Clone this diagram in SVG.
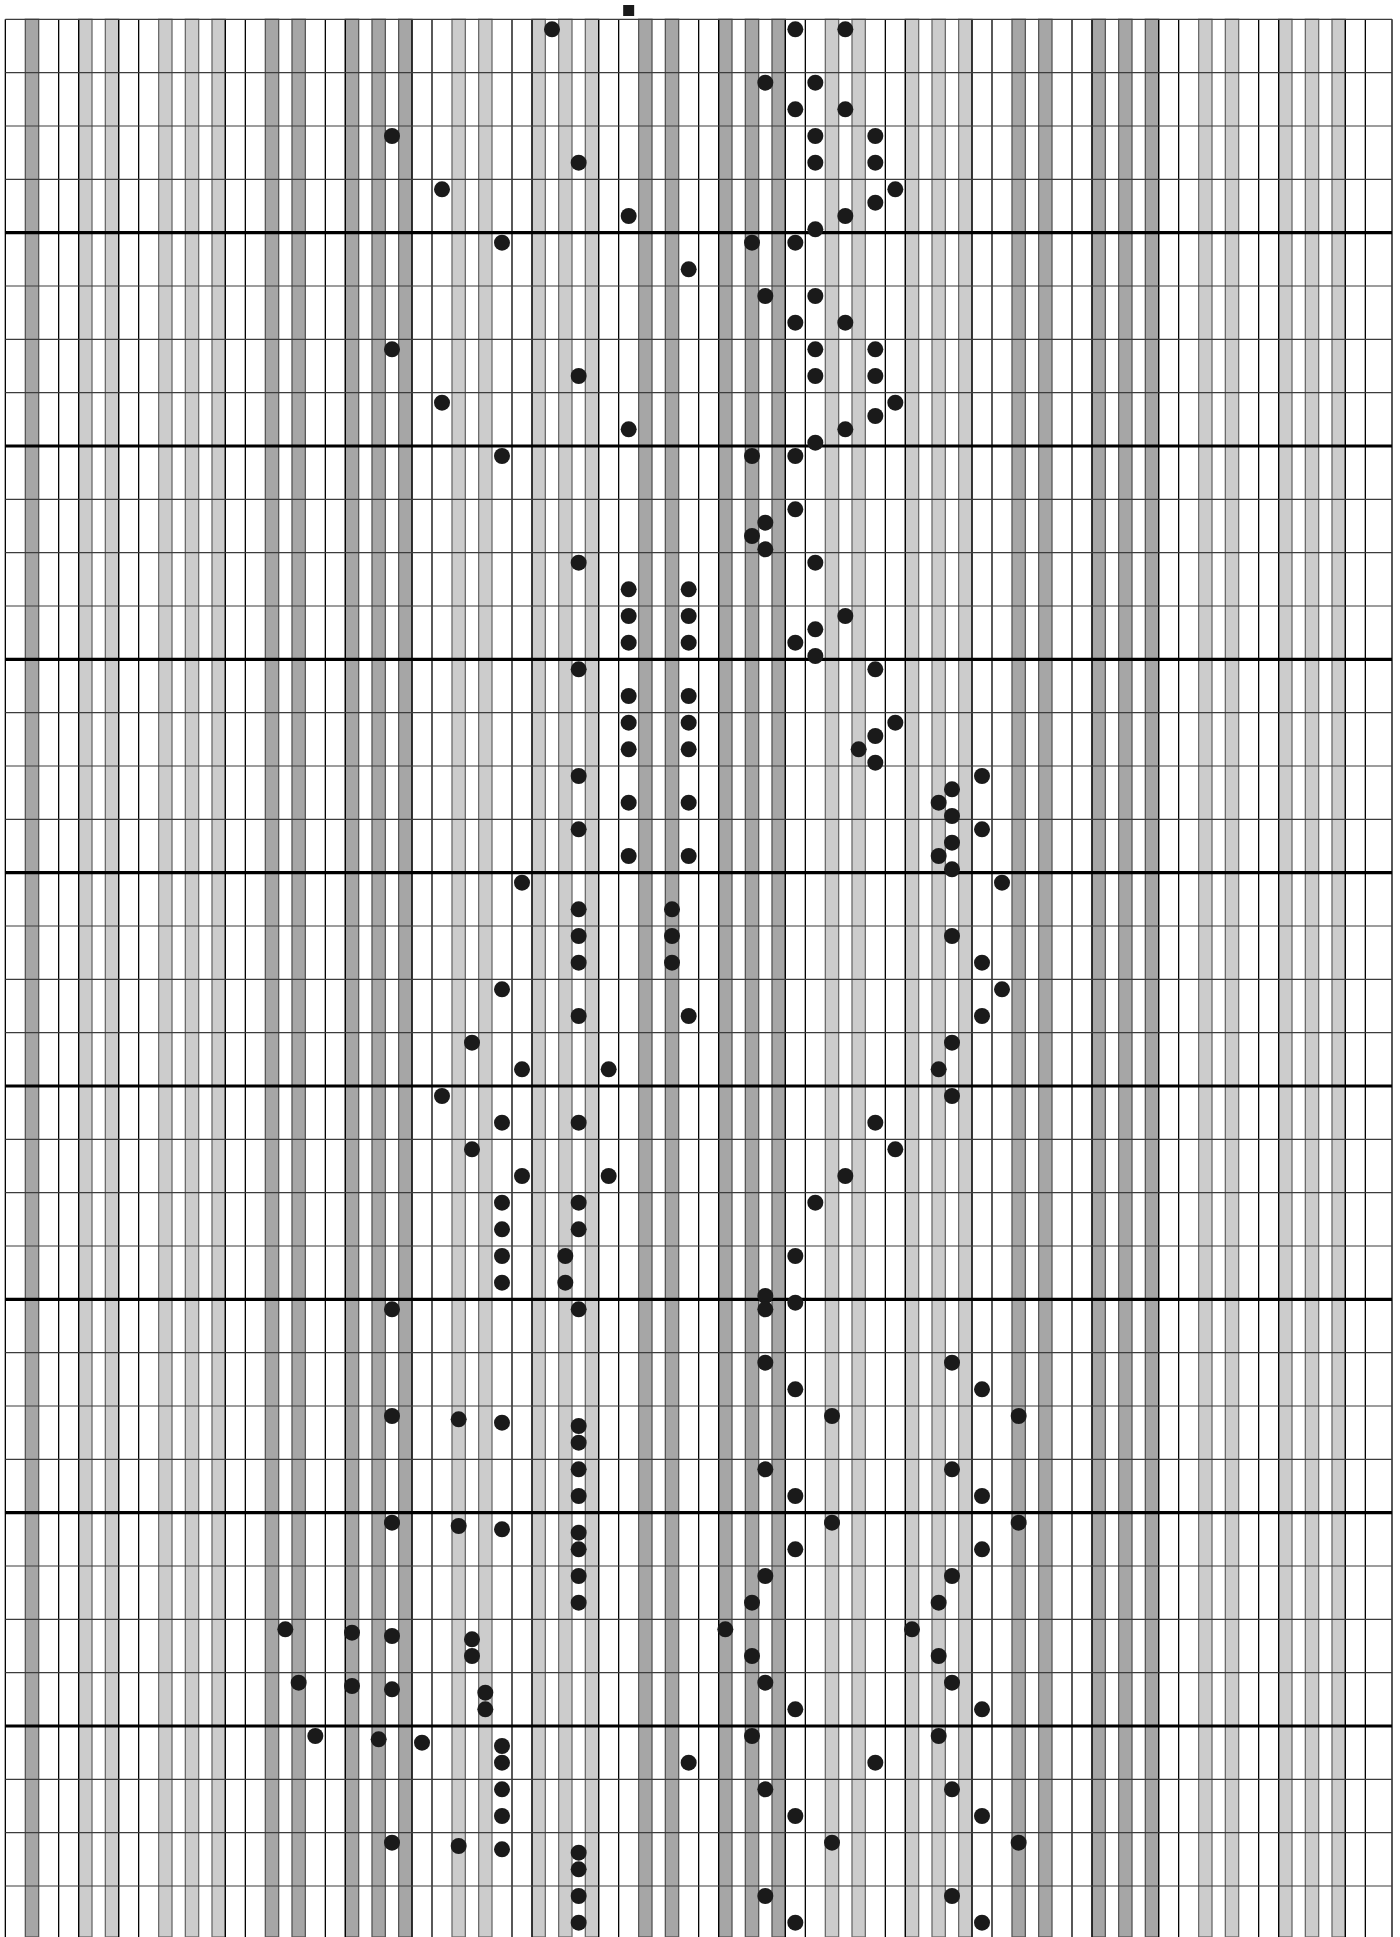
<svg xmlns="http://www.w3.org/2000/svg" xmlns:xlink="http://www.w3.org/1999/xlink" width="1400" height="1937" viewBox="0 0 1400 1937">
<style>
.vl{fill:none;stroke:#000;stroke-width:1.3}
.hl{fill:none;stroke:#3c3c3c;stroke-width:1.2}
.hb{fill:none;stroke:#000;stroke-width:3.2}
.n{fill:#1a1a1a}
</style>
<defs>
<g id="bk">
<rect x="20" y="19.33" width="13.33" height="1917.67"/>
<rect x="46.67" y="19.33" width="13.33" height="1917.67"/>
<rect x="100" y="19.33" width="13.33" height="1917.67"/>
<rect x="126.67" y="19.33" width="13.33" height="1917.67"/>
<rect x="153.33" y="19.33" width="13.33" height="1917.67"/>
</g>
</defs>
<rect x="0" y="0" width="1400" height="1937" fill="#fff"/>
<g id="grid">
<g id="keys" stroke-width="1.3">
<rect x="25.33" y="19.33" width="13.33" height="1917.67" fill="#a6a6a6" stroke="#555"/>
<use xlink:href="#bk" href="#bk" x="58.67" fill="#cccccc" stroke="#6a6a6a"/>
<use xlink:href="#bk" href="#bk" x="245.33" fill="#a6a6a6" stroke="#555"/>
<use xlink:href="#bk" href="#bk" x="432" fill="#cccccc" stroke="#6a6a6a"/>
<use xlink:href="#bk" href="#bk" x="618.67" fill="#a6a6a6" stroke="#555"/>
<use xlink:href="#bk" href="#bk" x="805.33" fill="#cccccc" stroke="#6a6a6a"/>
<use xlink:href="#bk" href="#bk" x="992" fill="#a6a6a6" stroke="#555"/>
<use xlink:href="#bk" href="#bk" x="1178.67" fill="#cccccc" stroke="#6a6a6a"/>
</g>
<path class="vl" d="M5.33 19.33V1937M58.67 19.33V1937M78.67 19.33V1937M118.67 19.33V1937M138.67 19.33V1937M225.33 19.33V1937M245.33 19.33V1937M325.33 19.33V1937M345.33 19.33V1937M412 19.33V1937M432 19.33V1937M512 19.33V1937M532 19.33V1937M598.67 19.33V1937M618.67 19.33V1937M698.67 19.33V1937M718.67 19.33V1937M785.33 19.33V1937M805.33 19.33V1937M885.33 19.33V1937M905.33 19.33V1937M972 19.33V1937M992 19.33V1937M1072 19.33V1937M1092 19.33V1937M1158.67 19.33V1937M1178.67 19.33V1937M1258.67 19.33V1937M1278.67 19.33V1937M1345.33 19.33V1937M1365.33 19.33V1937M1392 19.33V1937"/>
<path class="hl" d="M5.33 19.33H1392M5.33 72.67H1392M5.33 126H1392M5.33 179.33H1392M5.33 286H1392M5.33 339.33H1392M5.33 392.67H1392M5.33 499.33H1392M5.33 552.67H1392M5.33 606H1392M5.33 712.67H1392M5.33 766H1392M5.33 819.33H1392M5.33 926H1392M5.33 979.33H1392M5.33 1032.67H1392M5.33 1139.33H1392M5.33 1192.67H1392M5.33 1246H1392M5.33 1352.67H1392M5.33 1406H1392M5.33 1459.33H1392M5.33 1566H1392M5.33 1619.33H1392M5.33 1672.67H1392M5.33 1779.33H1392M5.33 1832.67H1392M5.33 1886H1392"/>
<path class="hb" d="M5.33 232.67H1392M5.33 446H1392M5.33 659.33H1392M5.33 872.67H1392M5.33 1086H1392M5.33 1299.33H1392M5.33 1512.67H1392M5.33 1726H1392"/>
</g>
<rect id="middle-c" x="623.17" y="5" width="11" height="11" fill="#1a1a1a"/>
<g id="notes">
<circle class="n" r="8" cx="552" cy="29.33"/><circle class="n" r="8" cx="795.33" cy="29.33"/><circle class="n" r="8" cx="845.33" cy="29.33"/>
<circle class="n" r="8" cx="765.33" cy="82.67"/><circle class="n" r="8" cx="815.33" cy="82.67"/>
<circle class="n" r="8" cx="795.33" cy="109.33"/><circle class="n" r="8" cx="845.33" cy="109.33"/>
<circle class="n" r="8" cx="392" cy="136"/><circle class="n" r="8" cx="815.33" cy="136"/><circle class="n" r="8" cx="875.33" cy="136"/>
<circle class="n" r="8" cx="578.67" cy="162.67"/><circle class="n" r="8" cx="815.33" cy="162.67"/><circle class="n" r="8" cx="875.33" cy="162.67"/>
<circle class="n" r="8" cx="442" cy="189.33"/><circle class="n" r="8" cx="895.33" cy="189.33"/>
<circle class="n" r="8" cx="875.33" cy="202.67"/>
<circle class="n" r="8" cx="628.67" cy="216"/><circle class="n" r="8" cx="845.33" cy="216"/>
<circle class="n" r="8" cx="815.33" cy="229.33"/>
<circle class="n" r="8" cx="502" cy="242.67"/><circle class="n" r="8" cx="752" cy="242.67"/><circle class="n" r="8" cx="795.33" cy="242.67"/>
<circle class="n" r="8" cx="688.67" cy="269.33"/>
<circle class="n" r="8" cx="765.33" cy="296"/><circle class="n" r="8" cx="815.33" cy="296"/>
<circle class="n" r="8" cx="795.33" cy="322.67"/><circle class="n" r="8" cx="845.33" cy="322.67"/>
<circle class="n" r="8" cx="392" cy="349.33"/><circle class="n" r="8" cx="815.33" cy="349.33"/><circle class="n" r="8" cx="875.33" cy="349.33"/>
<circle class="n" r="8" cx="578.67" cy="376"/><circle class="n" r="8" cx="815.33" cy="376"/><circle class="n" r="8" cx="875.33" cy="376"/>
<circle class="n" r="8" cx="442" cy="402.67"/><circle class="n" r="8" cx="895.33" cy="402.67"/>
<circle class="n" r="8" cx="875.33" cy="416"/>
<circle class="n" r="8" cx="628.67" cy="429.33"/><circle class="n" r="8" cx="845.33" cy="429.33"/>
<circle class="n" r="8" cx="815.33" cy="442.67"/>
<circle class="n" r="8" cx="502" cy="456"/><circle class="n" r="8" cx="752" cy="456"/><circle class="n" r="8" cx="795.33" cy="456"/>
<circle class="n" r="8" cx="795.33" cy="509.33"/>
<circle class="n" r="8" cx="765.33" cy="522.67"/>
<circle class="n" r="8" cx="752" cy="536"/>
<circle class="n" r="8" cx="765.33" cy="549.33"/>
<circle class="n" r="8" cx="578.67" cy="562.67"/><circle class="n" r="8" cx="815.33" cy="562.67"/>
<circle class="n" r="8" cx="628.67" cy="589.33"/><circle class="n" r="8" cx="688.67" cy="589.33"/>
<circle class="n" r="8" cx="628.67" cy="616"/><circle class="n" r="8" cx="688.67" cy="616"/><circle class="n" r="8" cx="845.33" cy="616"/>
<circle class="n" r="8" cx="815.33" cy="629.33"/>
<circle class="n" r="8" cx="628.67" cy="642.67"/><circle class="n" r="8" cx="688.67" cy="642.67"/><circle class="n" r="8" cx="795.33" cy="642.67"/>
<circle class="n" r="8" cx="815.33" cy="656"/>
<circle class="n" r="8" cx="578.67" cy="669.33"/><circle class="n" r="8" cx="875.33" cy="669.33"/>
<circle class="n" r="8" cx="628.67" cy="696"/><circle class="n" r="8" cx="688.67" cy="696"/>
<circle class="n" r="8" cx="628.67" cy="722.67"/><circle class="n" r="8" cx="688.67" cy="722.67"/><circle class="n" r="8" cx="895.33" cy="722.67"/>
<circle class="n" r="8" cx="875.33" cy="736"/>
<circle class="n" r="8" cx="628.67" cy="749.33"/><circle class="n" r="8" cx="688.67" cy="749.33"/><circle class="n" r="8" cx="858.67" cy="749.33"/>
<circle class="n" r="8" cx="875.33" cy="762.67"/>
<circle class="n" r="8" cx="578.67" cy="776"/><circle class="n" r="8" cx="982" cy="776"/>
<circle class="n" r="8" cx="952" cy="789.33"/>
<circle class="n" r="8" cx="628.67" cy="802.67"/><circle class="n" r="8" cx="688.67" cy="802.67"/><circle class="n" r="8" cx="938.67" cy="802.67"/>
<circle class="n" r="8" cx="952" cy="816"/>
<circle class="n" r="8" cx="578.67" cy="829.33"/><circle class="n" r="8" cx="982" cy="829.33"/>
<circle class="n" r="8" cx="952" cy="842.67"/>
<circle class="n" r="8" cx="628.67" cy="856"/><circle class="n" r="8" cx="688.67" cy="856"/><circle class="n" r="8" cx="938.67" cy="856"/>
<circle class="n" r="8" cx="952" cy="869.33"/>
<circle class="n" r="8" cx="522" cy="882.67"/><circle class="n" r="8" cx="1002" cy="882.67"/>
<circle class="n" r="8" cx="578.67" cy="909.33"/><circle class="n" r="8" cx="672" cy="909.33"/>
<circle class="n" r="8" cx="578.67" cy="936"/><circle class="n" r="8" cx="672" cy="936"/><circle class="n" r="8" cx="952" cy="936"/>
<circle class="n" r="8" cx="578.67" cy="962.67"/><circle class="n" r="8" cx="672" cy="962.67"/><circle class="n" r="8" cx="982" cy="962.67"/>
<circle class="n" r="8" cx="502" cy="989.33"/><circle class="n" r="8" cx="1002" cy="989.33"/>
<circle class="n" r="8" cx="578.67" cy="1016"/><circle class="n" r="8" cx="688.67" cy="1016"/><circle class="n" r="8" cx="982" cy="1016"/>
<circle class="n" r="8" cx="472" cy="1042.67"/><circle class="n" r="8" cx="952" cy="1042.67"/>
<circle class="n" r="8" cx="522" cy="1069.33"/><circle class="n" r="8" cx="608.67" cy="1069.33"/><circle class="n" r="8" cx="938.67" cy="1069.33"/>
<circle class="n" r="8" cx="442" cy="1096"/><circle class="n" r="8" cx="952" cy="1096"/>
<circle class="n" r="8" cx="502" cy="1122.67"/><circle class="n" r="8" cx="578.67" cy="1122.67"/><circle class="n" r="8" cx="875.33" cy="1122.67"/>
<circle class="n" r="8" cx="472" cy="1149.33"/><circle class="n" r="8" cx="895.33" cy="1149.33"/>
<circle class="n" r="8" cx="522" cy="1176"/><circle class="n" r="8" cx="608.67" cy="1176"/><circle class="n" r="8" cx="845.33" cy="1176"/>
<circle class="n" r="8" cx="502" cy="1202.67"/><circle class="n" r="8" cx="578.67" cy="1202.67"/><circle class="n" r="8" cx="815.33" cy="1202.67"/>
<circle class="n" r="8" cx="502" cy="1229.33"/><circle class="n" r="8" cx="578.67" cy="1229.33"/>
<circle class="n" r="8" cx="502" cy="1256"/><circle class="n" r="8" cx="565.33" cy="1256"/><circle class="n" r="8" cx="795.33" cy="1256"/>
<circle class="n" r="8" cx="502" cy="1282.67"/><circle class="n" r="8" cx="565.33" cy="1282.67"/>
<circle class="n" r="8" cx="765.33" cy="1296"/>
<circle class="n" r="8" cx="795.33" cy="1302.67"/>
<circle class="n" r="8" cx="392" cy="1309.33"/><circle class="n" r="8" cx="578.67" cy="1309.33"/><circle class="n" r="8" cx="765.33" cy="1309.33"/>
<circle class="n" r="8" cx="765.33" cy="1362.67"/><circle class="n" r="8" cx="952" cy="1362.67"/>
<circle class="n" r="8" cx="795.33" cy="1389.33"/><circle class="n" r="8" cx="982" cy="1389.33"/>
<circle class="n" r="8" cx="392" cy="1416"/><circle class="n" r="8" cx="832" cy="1416"/><circle class="n" r="8" cx="1018.67" cy="1416"/>
<circle class="n" r="8" cx="458.67" cy="1419.33"/><circle class="n" r="8" cx="502" cy="1422.67"/><circle class="n" r="8" cx="578.67" cy="1426"/>
<circle class="n" r="8" cx="578.67" cy="1442.67"/>
<circle class="n" r="8" cx="578.67" cy="1469.33"/><circle class="n" r="8" cx="765.33" cy="1469.33"/><circle class="n" r="8" cx="952" cy="1469.33"/>
<circle class="n" r="8" cx="578.67" cy="1496"/><circle class="n" r="8" cx="795.33" cy="1496"/><circle class="n" r="8" cx="982" cy="1496"/>
<circle class="n" r="8" cx="392" cy="1522.67"/><circle class="n" r="8" cx="832" cy="1522.67"/><circle class="n" r="8" cx="1018.67" cy="1522.67"/>
<circle class="n" r="8" cx="458.67" cy="1526"/><circle class="n" r="8" cx="502" cy="1529.33"/><circle class="n" r="8" cx="578.67" cy="1532.67"/>
<circle class="n" r="8" cx="578.67" cy="1549.33"/><circle class="n" r="8" cx="795.33" cy="1549.33"/><circle class="n" r="8" cx="982" cy="1549.33"/>
<circle class="n" r="8" cx="578.67" cy="1576"/><circle class="n" r="8" cx="765.33" cy="1576"/><circle class="n" r="8" cx="952" cy="1576"/>
<circle class="n" r="8" cx="578.67" cy="1602.67"/><circle class="n" r="8" cx="752" cy="1602.67"/><circle class="n" r="8" cx="938.67" cy="1602.67"/>
<circle class="n" r="8" cx="285.33" cy="1629.33"/><circle class="n" r="8" cx="725.33" cy="1629.33"/><circle class="n" r="8" cx="912" cy="1629.33"/>
<circle class="n" r="8" cx="352" cy="1632.67"/><circle class="n" r="8" cx="392" cy="1636"/><circle class="n" r="8" cx="472" cy="1639.33"/>
<circle class="n" r="8" cx="472" cy="1656"/><circle class="n" r="8" cx="752" cy="1656"/><circle class="n" r="8" cx="938.67" cy="1656"/>
<circle class="n" r="8" cx="298.67" cy="1682.67"/><circle class="n" r="8" cx="765.33" cy="1682.67"/><circle class="n" r="8" cx="952" cy="1682.67"/>
<circle class="n" r="8" cx="352" cy="1686"/><circle class="n" r="8" cx="392" cy="1689.33"/><circle class="n" r="8" cx="485.33" cy="1692.67"/>
<circle class="n" r="8" cx="485.33" cy="1709.33"/><circle class="n" r="8" cx="795.33" cy="1709.33"/><circle class="n" r="8" cx="982" cy="1709.33"/>
<circle class="n" r="8" cx="315.33" cy="1736"/><circle class="n" r="8" cx="752" cy="1736"/><circle class="n" r="8" cx="938.67" cy="1736"/>
<circle class="n" r="8" cx="378.67" cy="1739.33"/><circle class="n" r="8" cx="422" cy="1742.67"/><circle class="n" r="8" cx="502" cy="1746"/>
<circle class="n" r="8" cx="502" cy="1762.67"/><circle class="n" r="8" cx="688.67" cy="1762.67"/><circle class="n" r="8" cx="875.33" cy="1762.67"/>
<circle class="n" r="8" cx="502" cy="1789.33"/><circle class="n" r="8" cx="765.33" cy="1789.33"/><circle class="n" r="8" cx="952" cy="1789.33"/>
<circle class="n" r="8" cx="502" cy="1816"/><circle class="n" r="8" cx="795.33" cy="1816"/><circle class="n" r="8" cx="982" cy="1816"/>
<circle class="n" r="8" cx="392" cy="1842.67"/><circle class="n" r="8" cx="832" cy="1842.67"/><circle class="n" r="8" cx="1018.67" cy="1842.67"/>
<circle class="n" r="8" cx="458.67" cy="1846"/><circle class="n" r="8" cx="502" cy="1849.33"/><circle class="n" r="8" cx="578.67" cy="1852.67"/>
<circle class="n" r="8" cx="578.67" cy="1869.33"/>
<circle class="n" r="8" cx="578.67" cy="1896"/><circle class="n" r="8" cx="765.33" cy="1896"/><circle class="n" r="8" cx="952" cy="1896"/>
<circle class="n" r="8" cx="578.67" cy="1922.67"/><circle class="n" r="8" cx="795.33" cy="1922.67"/><circle class="n" r="8" cx="982" cy="1922.67"/>
</g>
</svg>
